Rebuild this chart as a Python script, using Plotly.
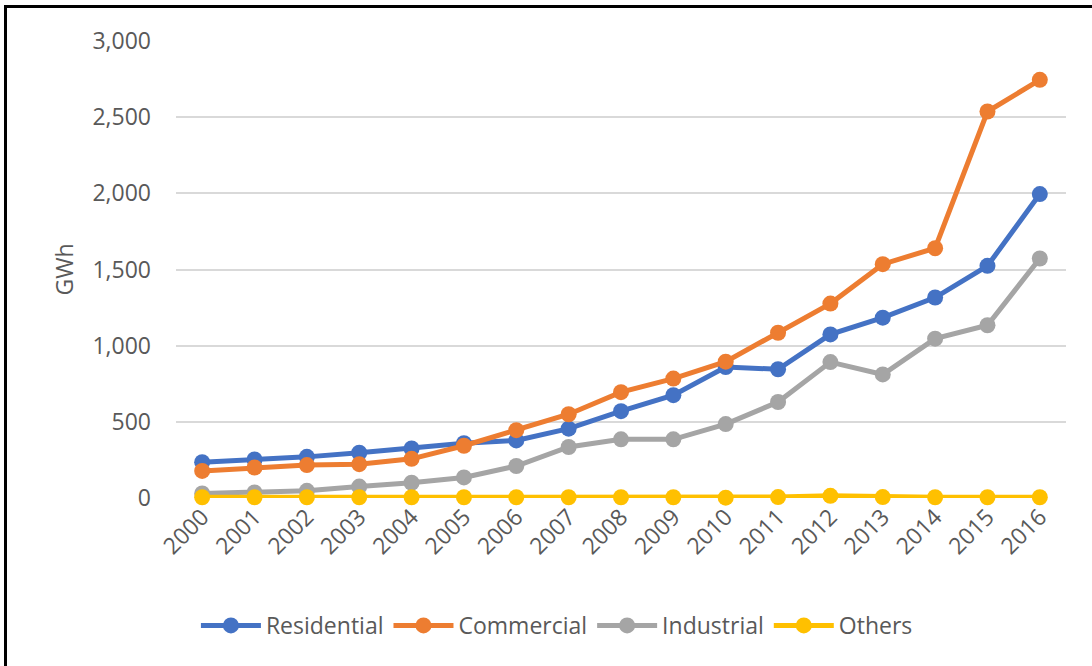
import plotly.graph_objects as go

years = [str(y) for y in range(2000, 2017)]
residential = [235, 253, 270, 297, 325, 360, 378, 455, 570, 675, 860, 845, 1074, 1184, 1316, 1524, 1995]
commercial = [178, 200, 216, 222, 257, 343, 445, 550, 695, 784, 895, 1085, 1276, 1535, 1640, 2537, 2745]
industrial = [30, 36, 47, 75, 100, 135, 210, 335, 385, 385, 485, 630, 892, 811, 1046, 1134, 1572]
others = [5, 5, 5, 5, 5, 5, 5, 5, 5, 5, 2, 6, 14, 6, 5, 5, 5]

series = [
    ("Residential", residential, "#4472C4"),
    ("Commercial", commercial, "#ED7D31"),
    ("Industrial", industrial, "#A5A5A5"),
    ("Others", others, "#FFC000"),
]

FONT = "Open Sans, Segoe UI, sans-serif"
GREY = "#595959"
FS = 23

fig = go.Figure()
for name, vals, col in series:
    fig.add_trace(go.Scatter(
        x=years, y=vals, name=name, mode="lines+markers",
        line=dict(color=col, width=5),
        marker=dict(color=col, size=16),
        cliponaxis=False,
    ))

fig.update_layout(
    width=1092, height=666,
    margin=dict(l=176, r=26, t=41, b=168),
    paper_bgcolor="white", plot_bgcolor="white",
    font=dict(family=FONT, size=FS, color=GREY),
    showlegend=True,
    legend=dict(orientation="h", x=0.428, xanchor="center", y=-0.279, yanchor="middle",
                font=dict(family=FONT, size=FS, color=GREY), itemwidth=60, tracegroupgap=0),
    xaxis=dict(type="category", range=[-0.5, 16.5], tickangle=-45,
               showgrid=False, showline=False, zeroline=False, ticks="",
               tickfont=dict(family=FONT, size=FS, color=GREY)),
    yaxis=dict(range=[0, 3000], tickvals=[0, 500, 1000, 1500, 2000, 2500, 3000],
               tickformat=",d", showgrid=True, gridcolor="#D9D9D9", gridwidth=1.5,
               zeroline=False, showline=False, ticks="", ticklabelstandoff=24,
               tickfont=dict(family=FONT, size=FS, color=GREY),
               title=dict(text="GWh", font=dict(family=FONT, size=FS, color=GREY), standoff=12)),
)

# Outer frame lines (top and left) as seen in the image
fig.add_shape(type="line", xref="paper", yref="paper",
              x0=(5.5 - 176) / 890, x1=1.05, y0=(498.3 - 6.5) / 457.3, y1=(498.3 - 6.5) / 457.3,
              line=dict(color="black", width=3))
fig.add_shape(type="line", xref="paper", yref="paper",
              x0=(5.5 - 176) / 890, x1=(5.5 - 176) / 890, y0=(498.3 - 5) / 457.3, y1=-0.4,
              line=dict(color="black", width=3))

fig.write_html("out.html")
